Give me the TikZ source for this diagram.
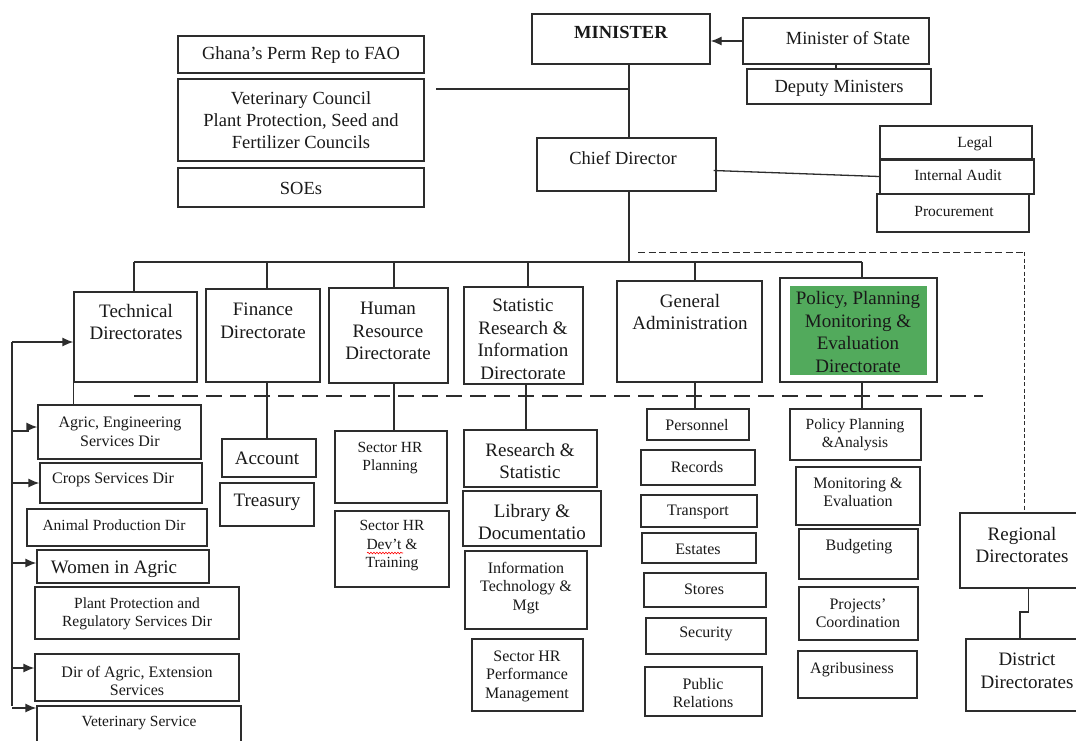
\documentclass[tikz,border=0pt]{standalone}
\usepackage{fontspec}
\setmainfont{Liberation Serif}
\usetikzlibrary{fit,arrows.meta,decorations.pathmorphing,calc}
\definecolor{ln}{RGB}{45,45,45}
\definecolor{pgreen}{RGB}{82,170,92}
\newcommand\bx[5]{\node[box, fit={(#2,#3) (#4,#5)}] (#1) {};}
\begin{document}
\begin{tikzpicture}[x=1pt,y=-1pt,
  box/.style={draw=ln,line width=1.3pt,inner sep=0pt},
  con/.style={draw=ln,line width=1.3pt},
  arr/.style={con,-{Latex[length=11pt,width=9pt]}},
  txt/.style={align=center,inner sep=0pt,text=black!90},
  fA/.style={font=\fontsize{19}{22.5}\selectfont},
  fM/.style={font=\fontsize{18.5}{22}\selectfont},
  fB/.style={font=\fontsize{16}{18.5}\selectfont},
  fC/.style={font=\fontsize{15.5}{18.5}\selectfont}]
\useasboundingbox (0,0) rectangle (1076,740);
\clip (0,0) rectangle (1076,740);
\fill[white] (0,0) rectangle (1076,740);

% ---------- boxes ----------
\bx{ghana}{178}{36}{424}{73}
\bx{vet}{178}{79}{424}{161}
\bx{soe}{178}{168}{424}{207}
\bx{min}{532}{14}{710}{64}
\bx{mos}{743}{18}{929}{64}
\bx{dep}{747}{69}{931}{104}
\bx{cd}{537}{138}{716}{191}
\bx{legal}{880}{126}{1032}{160}
\bx{ia}{880}{159}{1034}{194}
\bx{proc}{877}{194}{1029}{232}
\bx{tech}{74}{292}{197}{382}
\bx{fin}{206}{289}{320}{382}
\bx{hr}{329}{288}{448}{383}
\bx{stat}{464}{287}{583}{384}
\bx{ga}{617}{281}{762}{382}
\bx{pol}{780}{278}{937}{382}
\node[fill=pgreen,inner sep=0pt,fit={(790,286) (927,375)}] (polg) {};
\bx{ageng}{38}{405}{201}{459}
\bx{crops}{40}{463}{202}{503}
\bx{animal}{27}{509}{207}{546}
\bx{women}{37}{550}{209}{583}
\bx{plant}{35}{587}{239}{639}
\bx{ext}{35}{654}{239}{701}
\bx{vets}{37}{706}{241}{760}
\bx{acc}{222}{439}{316}{477}
\bx{treas}{220}{483}{314}{526}
\bx{hrp}{335}{431}{447}{503}
\bx{hrd}{335}{511}{449}{587}
\bx{rs}{464}{430}{597}{487}
\bx{lib}{463}{491}{601}{546}
\bx{it}{465}{551}{587}{629}
\bx{hrperf}{472}{639}{583}{711}
\bx{pers}{647}{409}{749}{440}
\bx{rec}{641}{450}{755}{485}
\bx{trans}{641}{495}{757}{527}
\bx{est}{642}{533}{756}{563}
\bx{stores}{644}{573}{766}{607}
\bx{sec}{646}{618}{766}{654}
\bx{pr}{645}{667}{762}{716}
\bx{ppa}{790}{409}{921}{460}
\bx{me}{796}{467}{920}{525}
\bx{bud}{799}{529}{918}{579}
\bx{projc}{799}{587}{918}{640}
\bx{agri}{798}{651}{917}{698}
\bx{reg}{960}{513}{1090}{588}
\bx{dist}{966}{639}{1090}{711}

% ---------- texts ----------
\node[txt,fM] (tghana) at (301,55) {Ghana’s Perm Rep to FAO};
\node[txt,fM] (tvet) at (301,120) {Veterinary Council\\Plant Protection, Seed and\\Fertilizer Councils};
\node[txt,fM] (tsoe) at (301,188) {SOEs};
\node[txt,fM] (tmin) at (621,32) {\textbf{MINISTER}};
\node[txt,fM] (tmos) at (848,38) {Minister of State};
\node[txt,fM] (tdep) at (839,88) {Deputy Ministers};
\node[txt,fM] (tcd) at (623,158) {Chief Director};
\node[txt,fC] (tlegal) at (975,144) {Legal};
\node[txt,fC] (tia) at (958,175) {Internal Audit};
\node[txt,fC] (tproc) at (954,211) {Procurement};
\node[txt,fA] (ttech) at (136,322) {Technical\\Directorates};
\node[txt,fA] (tfin) at (263,321) {Finance\\Directorate};
\node[txt,fA] (thr) at (388,331) {Human\\Resource\\Directorate};
\begin{scope}
\clip (464,287) rectangle (583,378);
\node[txt,fA] (tstat) at (523,339.5) {Statistic\\Research \&\\Information\\Directorate};
\end{scope}
\node[txt,fA] (tga) at (690,312) {General\\Administration};
\node[txt,fA] (tpol) at (858,332) {Policy, Planning\\Monitoring \&\\Evaluation\\Directorate};
\node[txt,fB] (tageng) at (120,432) {Agric, Engineering\\Services Dir};
\node[txt,fB] (tcrops) at (113,480) {Crops Services Dir};
\node[txt,fC] (tanimal) at (114,525) {Animal Production Dir};
\node[txt,fA] (twomen) at (114,569) {Women in Agric};
\node[txt,fC] (tplant) at (137,614) {Plant Protection and\\Regulatory Services Dir};
\node[txt,fB] (text) at (137,681) {Dir of Agric, Extension\\Services};
\node[txt,fC] (tvets) at (139,723) {Veterinary Service};
\node[txt,fA] (tacc) at (267,458) {Account};
\node[txt,fA] (ttreas) at (267,502) {Treasury};
\node[txt,fC] (thrp) at (390,458) {Sector HR\\Planning};
\node[txt,fC] (thrd) at (392,546) {Sector HR\\Dev’t \&\\Training};
\draw[red,line width=0.6pt,decorate,decoration={snake,amplitude=0.8pt,segment length=3pt}] (367,553) -- (403,553);
\node[txt,fA] (trs) at (530,461) {Research \&\\Statistic};
\node[txt,fA] (tlib) at (532,522) {Library \&\\Documentatio};
\node[txt,fB] (tit) at (526,588) {Information\\Technology \&\\Mgt};
\node[txt,fB] (thrperf) at (527,676) {Sector HR\\Performance\\Management};
\node[txt,fB] (tpers) at (697,425) {Personnel};
\node[txt,fB] (trec) at (697,467) {Records};
\node[txt,fB] (ttrans) at (698,512) {Transport};
\node[txt,fB] (test) at (698,549) {Estates};
\node[txt,fB] (tstores) at (704,589) {Stores};
\node[txt,fB] (tsec) at (706,634) {Security};
\node[txt,fB] (tpr) at (703,693) {Public\\Relations};
\node[txt,fC] (tppa) at (855,435) {Policy Planning\\\&Analysis};
\node[txt,fB] (tme) at (858,492) {Monitoring \&\\Evaluation};
\node[txt,fB] (tbud) at (859,547) {Budgeting};
\node[txt,fB] (tprojc) at (858,613) {Projects’\\Coordination};
\node[txt,fB] (tagri) at (852,670) {Agribusiness};
\node[txt,fA] (treg) at (1022,545) {Regional\\Directorates};
\node[txt,fA] (tdist) at (1027,671) {District\\Directorates};

% ---------- connectors ----------
\draw[arr] (mos.west) -- (mos.west -| min.east);
\draw[con] (mos.south) -- (mos.south |- dep.north);
\draw[con] ([xshift=2.5pt]min.south -| cd.north) -- ([xshift=2.5pt]cd.north);
\coordinate (vcend) at (436,89);
\draw[con] (vcend) -- ([xshift=2.5pt]vcend -| cd.north);
\draw[con] ($(cd.east)+(-3,6)$) -- (ia.west);
\coordinate (barL) at (134,262);
\coordinate (barR) at (862,262);
\draw[con] ([xshift=2.5pt]cd.south) -- ([xshift=2.5pt]cd.south |- barL);
\draw[con] (barL) -- (barR);
\draw[con] (tech.north -| barL) -- (barL);
\draw[con] ([xshift=4pt]fin.north) -- ([xshift=4pt]fin.north |- barL);
\draw[con] ([xshift=5.5pt]hr.north) -- ([xshift=5.5pt]hr.north |- barL);
\draw[con] ([xshift=4.5pt]stat.north) -- ([xshift=4.5pt]stat.north |- barL);
\draw[con] ([xshift=5.5pt]ga.north) -- ([xshift=5.5pt]ga.north |- barL);
\draw[con] ([xshift=3.5pt]pol.north) -- ([xshift=3.5pt]pol.north |- barL);
% dashed lines
\coordinate (dL) at (134,396);
\coordinate (dR) at (983,396);
\draw[draw=ln,line width=1.2pt,dash pattern=on 16pt off 8pt] (dL) -- (dR);
\coordinate (tdL) at (638,252);
\coordinate (tdC) at (1024,252);
\draw[draw=ln,line width=1pt,dash pattern=on 7pt off 3.5pt] (tdL) -- (tdC);
\draw[draw=ln,line width=1pt,dash pattern=on 4pt off 2.5pt] (tdC) -- (tdC |- reg.north);
% sub drops
\draw[con] ([xshift=4pt]fin.south) -- ([xshift=4pt]fin.south |- acc.north);
\draw[con] ([xshift=5.5pt]hr.south) -- ([xshift=5.5pt]hr.south |- hrp.north);
\draw[con] ([xshift=2.5pt]stat.south) -- ([xshift=2.5pt]stat.south |- rs.north);
\draw[con] ([xshift=5.5pt]ga.south) -- ([xshift=5.5pt]ga.south |- pers.north);
\draw[con] ([xshift=3.5pt]pol.south) -- ([xshift=3.5pt]pol.south |- ppa.north);
\draw[con] (tech.south west) -- (tech.south west |- ageng.north);
% regional-district
\coordinate (jog) at (1020,612);
\draw[con] ([xshift=3.5pt]reg.south) |- (jog) -- (jog |- dist.north);
% left bracket of arrows
\coordinate (lvT) at (12,342);
\coordinate (lvB) at (12,706);
\draw[con] (lvT) -- (lvB);
\draw[arr] (lvT) -- (lvT -| tech.west);
\coordinate (aE) at (12,431);
\draw[arr] (aE) -- (28,431) -- (28,427) -- (ageng.west |- 0,427);
\draw[arr] (lvT |- crops.west) -- (crops.west);
\coordinate (aW) at (12,563);
\draw[arr] (aW) -- (aW -| women.west);
\coordinate (aX) at (12,668);
\draw[arr] (aX) -- (aX -| ext.west);
\coordinate (aV) at (12,708);
\draw[arr] (aV) -- (aV -| vets.west);
\end{tikzpicture}
\end{document}
